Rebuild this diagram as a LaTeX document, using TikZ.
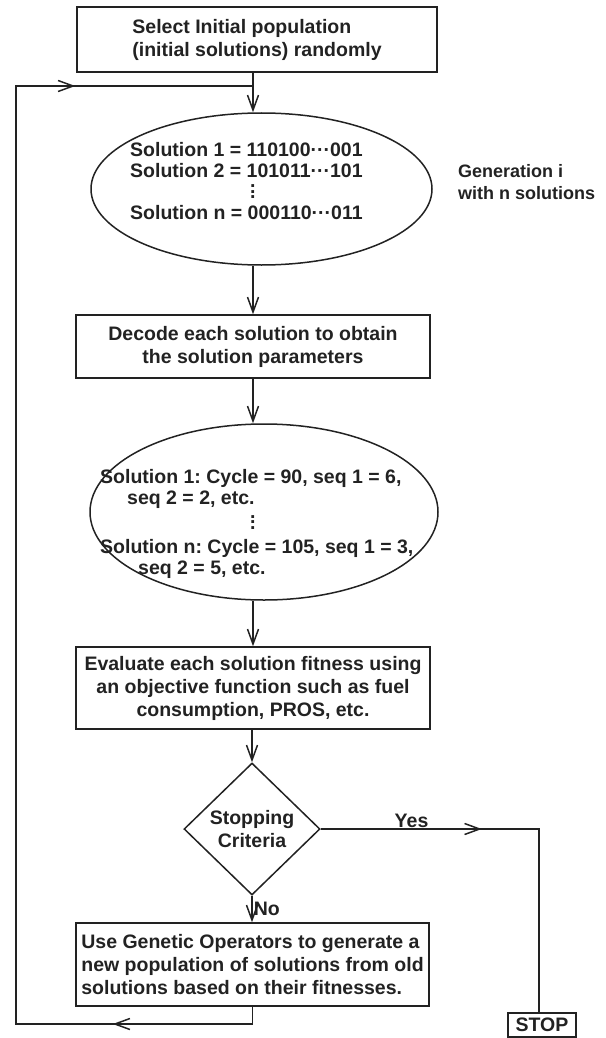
\documentclass[tikz,border=0pt]{standalone}
\usepackage{fontspec}
\setmainfont{Liberation Sans}
\usetikzlibrary{arrows.meta,shapes.geometric,decorations.markings}
\definecolor{ink}{HTML}{222222}
\newcommand\vdts{\vbox{\baselineskip=5.5pt\lineskiplimit=-10pt\lineskip=0pt\hbox{.}\hbox{.}\hbox{.}}}
\frenchspacing
\begin{document}
\begin{tikzpicture}[x=1pt,y=-1pt,
  every node/.style={font=\bfseries\fontsize{19.5}{23}\selectfont, text=ink},
  box/.style={draw=ink, line width=1.5pt, rectangle, inner sep=2pt},
  oval/.style={draw=ink, line width=1.5pt, ellipse, inner sep=0pt},
  dia/.style={draw=ink, line width=1.5pt, diamond, inner sep=0pt},
  link/.style={draw=ink, line width=1.5pt},
  arr/.style={link, -{Straight Barb[length=15pt,width=11pt]}},
  lbl/.style={inner sep=1pt}]
\useasboundingbox (0,0) rectangle (605,1038);

% nodes
\node[box, minimum width=360pt, minimum height=65pt, align=left] (top) at (257,39.5)
  {Select Initial population\\(initial solutions) randomly};
\node[oval, minimum width=341pt, minimum height=152pt] (e1) at (261.5,189) {};
\node[inner sep=0pt, anchor=west, align=left, font=\bfseries\fontsize{19.5}{21}\selectfont] (e1t) at (130,181.3)
  {Solution 1 = 110100···001\\Solution 2 = 101011···101\\\hspace*{120pt}\vdts\\Solution n = 000110···011};
\node[anchor=west, align=left, inner sep=0pt, font=\bfseries\fontsize{18}{22}\selectfont] (gen) at (458,182)
  {Generation i\\with n solutions};
\node[box, minimum width=354pt, minimum height=63pt, align=center] (b2) at (253,346.5)
  {Decode each solution to obtain\\the solution parameters};
\node[oval, minimum width=348pt, minimum height=176pt] (e2) at (264,512) {};
\node[inner sep=0pt, anchor=west, align=left, font=\bfseries\fontsize{19.5}{21}\selectfont] (e2t) at (100,524.4)
  {Solution 1: Cycle = 90, seq 1 = 6,\\\hspace*{27pt}seq 2 = 2, etc.\\[3.5pt]\hspace*{150pt}\vdts\\[3.5pt]Solution n: Cycle = 105, seq 1 = 3,\\\hspace*{38pt}seq 2 = 5, etc.};
\node[box, minimum width=354pt, minimum height=82pt, align=center] (b3) at (253,688)
  {Evaluate each solution fitness using\\an objective function such as fuel\\consumption, PROS, etc.};
\node[dia, minimum width=136pt, minimum height=132pt, align=center] (d) at (252,829)
  {Stopping\\Criteria};
\node[box, minimum width=353pt, minimum height=83pt, align=left] (b4) at (252.5,964.5)
  {Use Genetic Operators to generate a\\new population of solutions from old\\solutions based on their fitnesses.};
\node[box, minimum width=68pt, minimum height=24pt, inner sep=0pt] (stop) at (542,1025) {STOP};

% helper coordinates
\coordinate (ax) at (253,0);
\coordinate (jn) at (253,86);
\coordinate (lt) at (16,86);
\coordinate (lb) at (16,1024);
\coordinate (yc) at (539,829);

% main flow
\draw[arr] (top.south -| ax) -- (e1.north -| ax);
\draw[arr] (e1.south -| ax) -- (b2.north -| ax);
\draw[arr] (b2.south -| ax) -- (e2.north -| ax);
\draw[arr] (e2.south -| ax) -- (b3.north -| ax);
\draw[arr] (b3.south -| d.north) -- (d.north);
\draw[arr] (d.south) -- node[lbl, right] {No} (b4.north -| d.south);

% yes branch
\draw[link, decoration={markings, mark=at position 161pt with {\arrow{Straight Barb[length=15pt,width=11pt]}}}, postaction={decorate}]
  (d.east) -- node[lbl, above, pos=0.416] {Yes} (yc) -- (yc |- stop.north);

% feedback loop
\draw[link, decoration={markings,
    mark=at position 157pt with {\arrow{Straight Barb[length=15pt,width=11pt]}},
    mark=at position 1251pt with {\arrow{Straight Barb[length=15pt,width=11pt]}}}, postaction={decorate}]
  (b4.south) -- (b4.south |- lb) -- (lb) -- (lt) -- (jn);
\end{tikzpicture}
\end{document}
